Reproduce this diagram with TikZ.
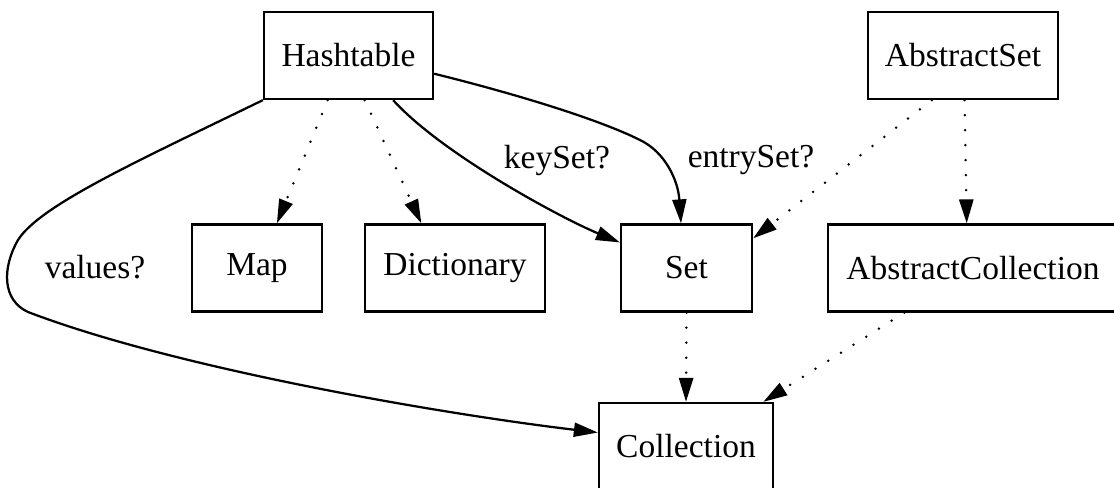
\documentclass[tikz,border=0pt]{standalone}
\usepackage{fontspec}
\setmainfont{Liberation Serif}
\usetikzlibrary{arrows.meta}

\tikzset{
	cls/.style={draw,rectangle,line width=0.9pt,minimum height=34.8pt,inner sep=0pt,font=\fontsize{13.4}{16}\selectfont},
	uses/.style={line width=0.9pt},
	impl/.style={line width=1.1pt,line cap=round,dash pattern=on 0pt off 6pt},
	lbl/.style={font=\fontsize{13.4}{16}\selectfont}
}

\begin{document}
\begin{tikzpicture}[x=0.4pt,y=-0.4pt,>={Triangle[length=9.6pt,width=5.6pt]}]
		\path[use as bounding box,clip] (0,0) rectangle (1114,487);

		% classes and interfaces
		\node[cls,minimum width=67.6pt] (ht) at (348.5,55.5) {Hashtable};
		\node[cls,minimum width=76pt] (aset) at (963,55.5) {AbstractSet};
		\node[cls,minimum width=52pt] (map) at (257,268) {Map};
		\node[cls,minimum width=72pt] (dict) at (455,268) {Dictionary};
		\node[cls,minimum width=52.4pt] (set) at (686.5,268) {Set};
		\node[cls,minimum width=116pt] (acol) at (973,268) {AbstractCollection};
		\node[cls,minimum width=69.6pt] (col) at (686,446.5) {Collection};

		% labels of the views
		\node[lbl] (lvalues) at (95,267) {values?};
		\node[lbl] (lkeys) at (557,160) {keySet?};
		\node[lbl] (lentries) at (751,160) {entrySet?};

		% inheritance (dotted)
		\path[->] (ht.-115) edge[impl] (map.66);
		\path[->] (ht.-70) edge[impl] (dict.127);
		\path[->] (aset.-125) edge[impl] (set.24);
		\path[->] (aset.-88) edge[impl] (acol.98);
		\path[->] (set.south) edge[impl] (col.north);
		\path[->] (acol.-147) edge[impl] (col.30);

		% views returned by Hashtable
		\draw[->,uses] (ht.-45) .. controls (442,154) and (561,218) .. (set.159);
		\draw[->,uses] (ht.-12) .. controls (520,95) and (600,120) .. (640,140)
			.. controls (665,152) and (678,180) .. (set.97);
		\draw[->,uses] (ht.south west) .. controls (140,160) and (40,205) .. (18,240)
			.. controls (2,268) and (2,300) .. (28,312)
			.. controls (180,370) and (450,415) .. (col.171);
\end{tikzpicture}
\end{document}
